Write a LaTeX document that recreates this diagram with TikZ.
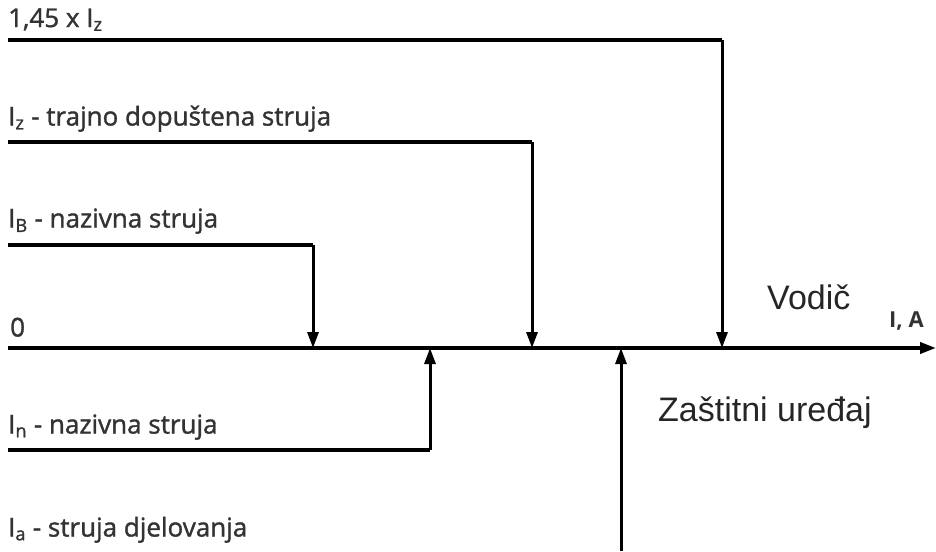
\documentclass[tikz,border=0pt]{standalone}
\usepackage{fontspec}
\setmainfont{Open Sans}
\newfontfamily\lblfont[FakeBold=1.3]{Open Sans}
\newfontfamily\arialf{Liberation Sans}
\usetikzlibrary{arrows.meta}
\definecolor{txt}{HTML}{333333}
\tikzset{
  hline/.style={line width=3.6pt},
  vline/.style={line width=3pt},
  arr/.style={-{Triangle[length=16pt,width=11pt]}},
  lbl/.style={anchor=south west, inner sep=0pt, font=\lblfont\fontsize{26}{28}\selectfont, text=txt},
  big/.style={inner sep=0pt, font=\arialf\fontsize{34}{38}\selectfont, text=black!85}
}
\begin{document}
\begin{tikzpicture}[x=1pt,y=-1pt]
\useasboundingbox (0,0) rectangle (936,551);
% axis
\coordinate (a0) at (8,348);
\coordinate (aend) at (936,348);
\draw[hline,arr] (a0) -- (aend);
% conductor lines
\coordinate (t0) at (8,40);  \coordinate (t1) at (722,40);  \coordinate (t2) at (722,348);
\coordinate (z0) at (8,142); \coordinate (z1) at (532,142); \coordinate (z2) at (532,348);
\coordinate (b0) at (8,245); \coordinate (b1) at (313,245); \coordinate (b2) at (313,348);
\draw[hline] (t0) -- (t1);
\draw[vline,arr] (t1) -- (t2);
\draw[hline] (z0) -- (z1);
\draw[vline,arr] (z1) -- (z2);
\draw[hline] (b0) -- (b1);
\draw[vline,arr] (b1) -- (b2);
% protection device lines
\coordinate (n0) at (8,450); \coordinate (n1) at (430,450); \coordinate (n2) at (430,348);
\coordinate (q1) at (621,551); \coordinate (q2) at (621,348);
\draw[hline] (n0) -- (n1);
\draw[vline,arr] (n1) -- (n2);
\draw[vline,arr] (q1) -- (q2);
% labels
\node[lbl] (lt) at (8,31) {1,45 x I\textsubscript{z}};
\node[lbl] (lz) at (8,132) {I\textsubscript{z} - trajno dopuštena struja};
\node[lbl] (lb) at (8,234) {I\textsubscript{B} - nazivna struja};
\node[lbl] (l0) at (10,337) {0};
\node[lbl] (ln) at (8,440) {I\textsubscript{n} - nazivna struja};
\node[lbl] (la) at (8,543) {I\textsubscript{a} - struja djelovanja};
\node[big, anchor=west] (vod) at (767,297) {Vodič};
\node[big, anchor=west] (zas) at (658,413) {Zaštitni uređaj};
\node[inner sep=0pt, anchor=west, font=\bfseries\fontsize{22}{24}\selectfont, text=txt] (ia) at (889,321) {I, A};
\end{tikzpicture}
\end{document}
